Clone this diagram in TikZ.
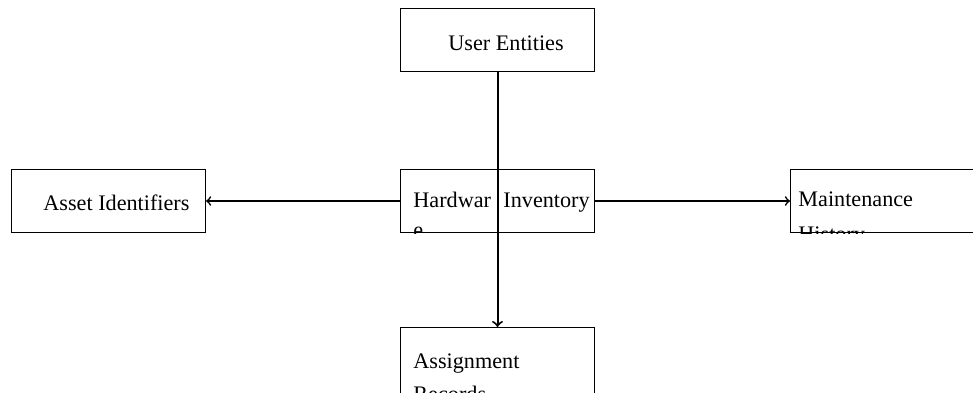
\documentclass[tikz,border=0pt]{standalone}
\usepackage{fontspec}
\setmainfont{Liberation Serif}
\begin{document}
\begin{tikzpicture}[x=0.5pt, y=-0.5pt, font=\fontsize{11.1}{13}\selectfont]
\tikzstyle{b} = [draw=black, line width=0.5pt, rectangle, inner sep=0pt, anchor=north west, minimum width=97pt, minimum height=31.5pt]
\tikzstyle{t} = [anchor=base west, inner sep=0pt]
\tikzstyle{e} = [draw=black, line width=0.8pt, ->]

\useasboundingbox (0,0) rectangle (973,392);

\node[b] (U) at (400,8) {};
\node[b] (H) at (400,169) {};
\node[b] (A) at (11,169) {};
\node[b, minimum width=100pt] (M) at (790,169) {};
\node[b, minimum height=45pt] (R) at (400,327) {};

\node[t] (Ut) at (448,50) {User Entities};
\node[t] (At) at (43,210) {Asset Identifiers};
\node[t] (Ht) at (413,207) {Hardwar};
\node[t] (Hi) at (503,207) {Inventory};
\node[t] (Mt) at (798,206) {Maintenance};
\node[t] (Rt) at (413,368) {Assignment};
\node[t] (Rr) at (413,401) {Records};
\begin{scope}
\clip (H.north west) rectangle (H.south east);
\node[t] (He) at (413,237) {e};
\end{scope}
\begin{scope}
\clip (M.north west) rectangle (M.south east);
\node[t] (Mh) at (798,241) {History};
\end{scope}

\draw[e, line width=1pt] (U) to (R);
\draw[e] (H) to (A);
\draw[e] (H) to (M);
\end{tikzpicture}
\end{document}
